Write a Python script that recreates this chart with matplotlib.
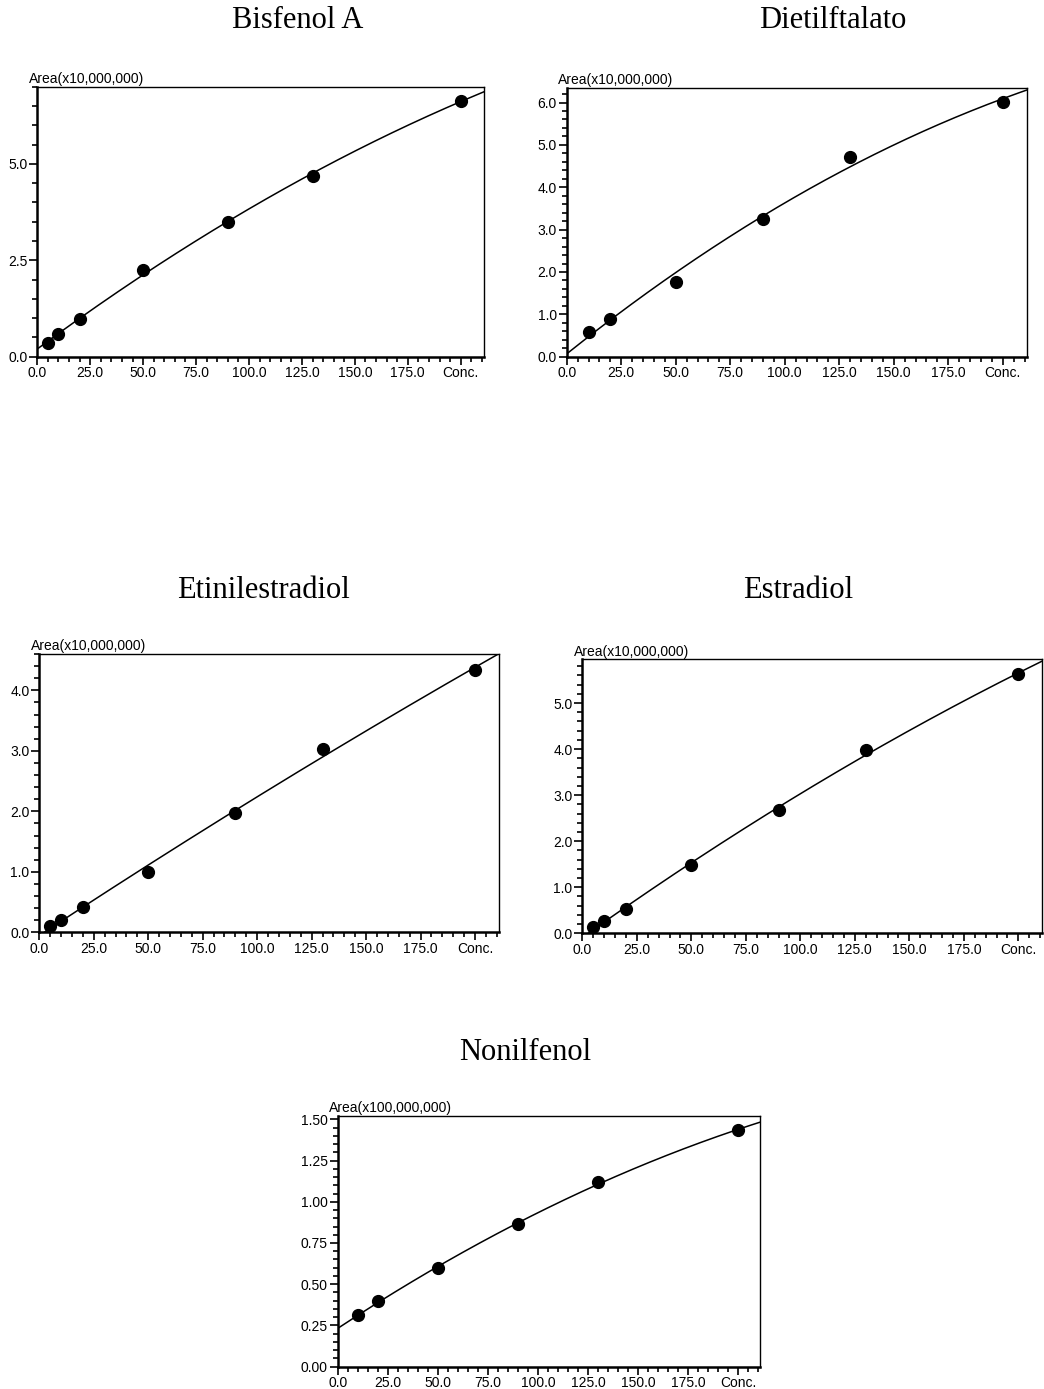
import matplotlib
matplotlib.use("Agg")
import matplotlib.pyplot as plt
import numpy as np
from matplotlib.ticker import MultipleLocator, FixedLocator, FixedFormatter

# concentration levels and areas
conc_bpa = [5, 10, 20, 50, 90, 130, 200]
area_bpa = [0.36, 0.59, 0.99, 2.25, 3.48, 4.69, 6.64]

conc_def = [10, 20, 50, 90, 130, 200]
area_def = [0.59, 0.88, 1.77, 3.24, 4.72, 6.02]

conc_ee2 = [5, 10, 20, 50, 90, 130, 200]
area_ee2 = [0.10, 0.21, 0.42, 1.00, 1.97, 3.03, 4.34]

conc_e2 = [5, 10, 20, 50, 90, 130, 200]
area_e2 = [0.13, 0.27, 0.52, 1.49, 2.67, 3.99, 5.62]

conc_np = [10, 20, 50, 90, 130, 200]
area_np = [0.311, 0.396, 0.598, 0.863, 1.12, 1.435]

titles = ["Bisfenol A", "Dietilftalato", "Etinilestradiol", "Estradiol", "Nonilfenol"]
ylabels = ["Area(x10,000,000)"] * 4 + ["Area(x100,000,000)"]
xtick_vals = [0, 25, 50, 75, 100, 125, 150, 175, 200]
xtick_labels = ["0.0", "25.0", "50.0", "75.0", "100.0", "125.0", "150.0", "175.0", "Conc."]

W, H = 1044, 1389
fig = plt.figure(figsize=(W / 100, H / 100), dpi=100)
plt.rcParams['font.family'] = ['Liberation Sans', 'DejaVu Sans']

# (left, right, top, bottom) in pixels, ymax, y major, y minor, y format, title pos
panels = [
    (conc_bpa, area_bpa, (37.3, 484, 86.7, 356.7), 7.0, 2.5, 0.5, "%.1f", (298, 21)),
    (conc_def, area_def, (566.7, 1026.7, 87.7, 356.7), 6.35, 1.0, 0.2, "%.1f", (833, 21)),
    (conc_ee2, area_ee2, (39.3, 499, 654, 932.3), 4.6, 1.0, 0.2, "%.1f", (263, 590)),
    (conc_e2, area_e2, (582.3, 1042.3, 659.3, 933.3), 5.95, 1.0, 0.2, "%.1f", (798, 590)),
    (conc_np, area_np, (337.7, 760, 1116, 1366.7), 1.52, 0.25, 0.05, "%.2f", (525, 1053)),
]

xmax = 211

for i, (xs, ys, box, ymax, ymaj, ymin, yfmt, tpos) in enumerate(panels):
    l, r, t, b = box
    ax = fig.add_axes([l / W, 1 - b / H, (r - l) / W, (b - t) / H])
    xs = np.array(xs, dtype=float)
    ys = np.array(ys, dtype=float)

    # quadratic calibration curve through the points
    coef = np.polyfit(xs, ys, 2)
    xc = np.linspace(0, xmax, 200)
    ax.plot(xc, np.polyval(coef, xc), color="black", linewidth=1.1)
    ax.plot(xs, ys, "o", color="black", markersize=8.5)

    ax.set_xlim(0, xmax)
    ax.set_ylim(0, ymax)

    ax.xaxis.set_major_locator(FixedLocator(xtick_vals))
    ax.xaxis.set_major_formatter(FixedFormatter(xtick_labels))
    ax.xaxis.set_minor_locator(MultipleLocator(5))
    ax.yaxis.set_major_locator(MultipleLocator(ymaj))
    ax.yaxis.set_minor_locator(MultipleLocator(ymin))
    ax.yaxis.set_major_formatter(plt.FormatStrFormatter(yfmt))

    ax.tick_params(which="major", direction="out", length=6, width=1.2, labelsize=10, pad=1)
    ax.tick_params(which="minor", direction="out", length=3.5, width=1.2)

    ax.spines["left"].set_linewidth(1.8)
    ax.spines["bottom"].set_linewidth(1.8)
    ax.spines["top"].set_linewidth(1.0)
    ax.spines["right"].set_linewidth(1.0)

    ax.annotate(ylabels[i], xy=(0, 1), xycoords="axes fraction",
                xytext=(-6, 0.5), textcoords="offset points",
                ha="left", va="bottom", fontsize=10)

    fig.text(tpos[0] / W, 1 - tpos[1] / H, titles[i], ha="center", va="center",
             fontsize=22, family=["Liberation Serif", "DejaVu Serif"])

fig.savefig("out.png", dpi=100)
